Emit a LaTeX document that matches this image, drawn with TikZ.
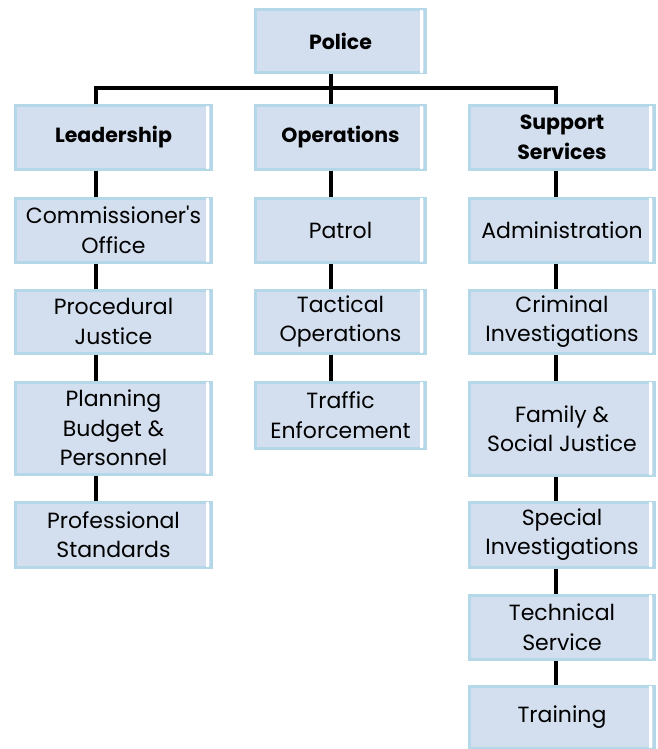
\documentclass[tikz,border=0pt]{standalone}
\usepackage{fontspec}
\setmainfont{Poppins}
\usetikzlibrary{calc}
\definecolor{boxfill}{HTML}{D3DFEE}
\definecolor{boxline}{HTML}{B4D8E8}
\newcommand\orgnode[7]{%
  \node[#6, minimum width=#4pt-3pt, minimum height=#5pt-3pt] (#1) at (#2,#3+1.5) {#7};
  \fill[white] ($(#1.north east)+(-7.5,1.5)$) rectangle ($(#1.south east)+(-4,-1.5)$);
}
\begin{document}
\begin{tikzpicture}[x=1pt,y=-1pt,
  orgbox/.style={draw=boxline, fill=boxfill, line width=3pt, align=center,
    inner sep=0pt, anchor=north, font=\fontsize{22}{29.5}\selectfont},
  headbox/.style={orgbox, font=\fontsize{20.5}{29.5}\selectfont\bfseries},
  link/.style={draw=black, line width=4pt}]
\useasboundingbox (0,0) rectangle (657,749);
\coordinate (c1) at (96,88);
\coordinate (c2) at (331,88);
\coordinate (c3) at (556,88);
% boxes
\orgnode{police}{340.5}{7}{173}{66}{headbox}{Police}
\orgnode{lead}{113.5}{103}{199}{66}{headbox}{Leadership}
\orgnode{ops}{340.5}{103}{173}{66}{headbox}{Operations}
\orgnode{supp}{562}{103}{188}{66}{headbox}{Support\\Services}
\orgnode{comm}{113.5}{195}{199}{67}{orgbox}{Commissioner\textquotesingle s\\Office}
\orgnode{proc}{113.5}{287}{199}{66}{orgbox}{Procedural\\Justice}
\orgnode{plan}{113.5}{379}{199}{95}{orgbox}{Planning\\Budget \&\\Personnel}
\orgnode{prof}{113.5}{499}{199}{68}{orgbox}{Professional\\Standards}
\orgnode{patrol}{340.5}{195}{173}{67}{orgbox}{Patrol}
\orgnode{tact}{340.5}{287}{173}{66}{orgbox}{Tactical\\Operations}
\orgnode{traf}{340.5}{379}{173}{69}{orgbox}{Traffic\\Enforcement}
\orgnode{admin}{562}{195}{188}{67}{orgbox}{Administration}
\orgnode{crim}{562}{287}{188}{66}{orgbox}{Criminal\\Investigations}
\orgnode{fam}{562}{379}{188}{96}{orgbox}{Family \&\\Social Justice}
\orgnode{spec}{562}{499}{188}{68}{orgbox}{Special\\Investigations}
\orgnode{tech}{562}{592}{188}{67}{orgbox}{Technical\\Service}
\orgnode{train}{562}{683}{188}{65}{orgbox}{Training}
% connectors
\draw[link] (police.south -| c2) -- (c2);
\draw[link] (lead.north -| c1) -- (c1) -- (c3) -- (supp.north -| c3);
\draw[link] (c2) -- (ops.north -| c2);
\foreach \a/\b in {lead/comm, comm/proc, proc/plan, plan/prof}
  \draw[link] (\a.south -| c1) -- (\b.north -| c1);
\foreach \a/\b in {ops/patrol, patrol/tact, tact/traf}
  \draw[link] (\a.south -| c2) -- (\b.north -| c2);
\foreach \a/\b in {supp/admin, admin/crim, crim/fam, fam/spec, spec/tech, tech/train}
  \draw[link] (\a.south -| c3) -- (\b.north -| c3);
\end{tikzpicture}
\end{document}
